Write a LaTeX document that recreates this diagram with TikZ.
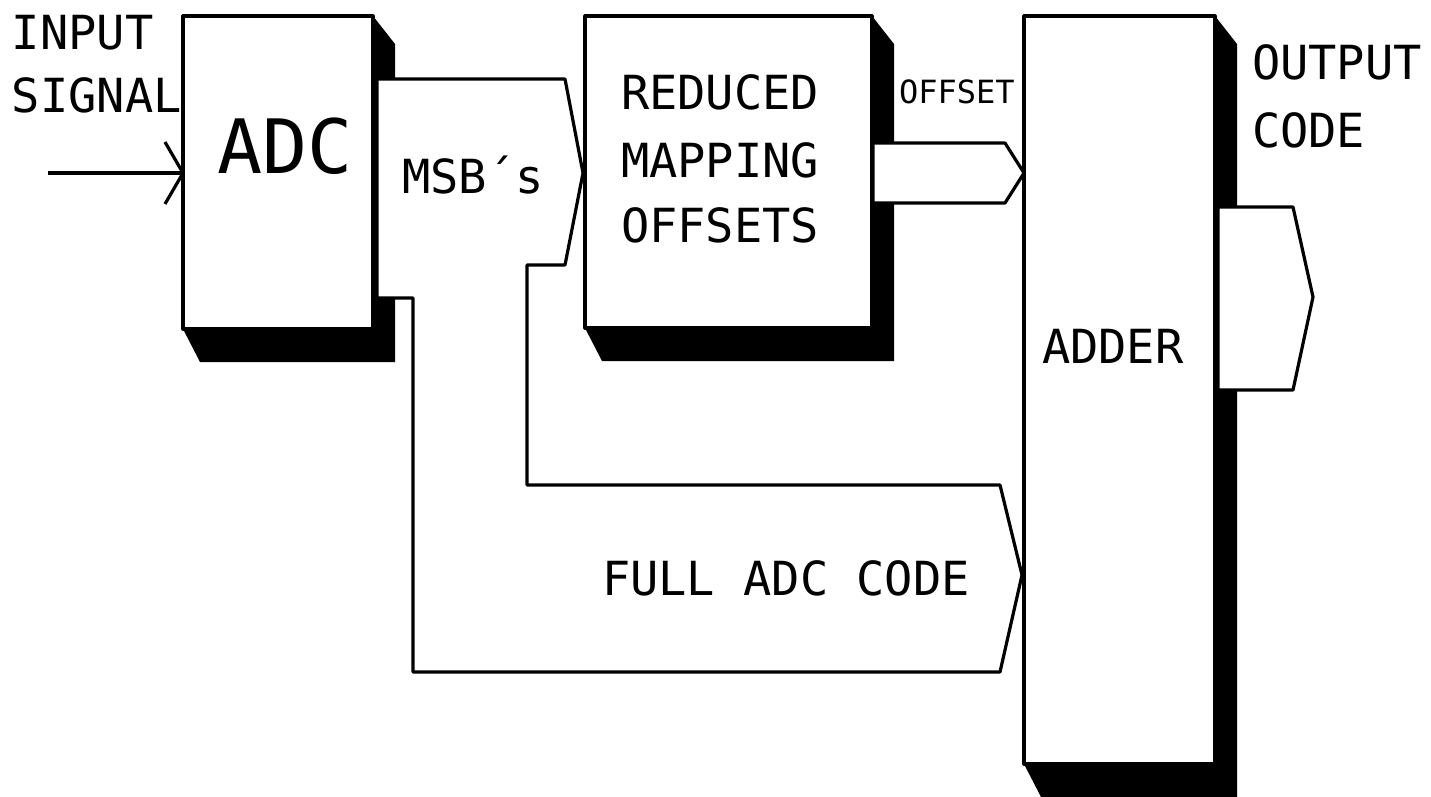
\documentclass[tikz,border=0pt]{standalone}
\usepackage{fontspec}
\newfontfamily\plotfont{DejaVu Sans Mono}
\usetikzlibrary{calc}
\newcommand\boxshadow[1]{%
  \fill[black] (#1.north east) -- ++(22,28) -- ($(#1.south east)+(22,33)$)
    -- ($(#1.south west)+(17,33)$) -- (#1.south west) -- (#1.south east) -- cycle;}
\begin{document}
\begin{tikzpicture}[x=1pt,y=-1pt, line width=3.2pt, line join=round,
  blk/.style={draw, fill=white, inner sep=0pt, outer sep=0pt},
  bus/.style={draw, fill=white},
  lbl/.style={anchor=base west, inner sep=0pt, outer sep=0pt,
    font=\plotfont\fontsize{47}{47}\selectfont},
  biglbl/.style={lbl, font=\plotfont\fontsize{75}{75}\selectfont},
  smalllbl/.style={lbl, font=\plotfont\fontsize{32}{32}\selectfont}]
\useasboundingbox (0,0) rectangle (1431,797);
% blocks
\node[blk, minimum width=190pt, minimum height=313pt] (adc) at (278,172.5) {};
\node[blk, minimum width=287pt, minimum height=312pt] (rmo) at (728.5,172) {};
\node[blk, minimum width=191pt, minimum height=748pt] (add) at (1119.5,390) {};
\boxshadow{adc}
\boxshadow{rmo}
\boxshadow{add}
% buses
\draw[bus] (377,79) -- (565,79) -- (583,173) -- (565,265) -- (527,265)
  -- (527,485) -- (1000,485) -- (1022,575) -- (1000,672) -- (413,672)
  -- (413,298) -- (377,298) -- cycle;
\draw[bus] (873,143) -- (1005,143) -- (1024,173) -- (1005,203) -- (873,203) -- cycle;
\draw[bus] (1218,207) -- (1293,207) -- (1313,297) -- (1293,390) -- (1218,390) -- cycle;
% input arrow
\coordinate (inp) at (48,173);
\coordinate (tip) at (adc.west |- inp);
\draw (inp) -- (tip);
\draw (tip) ++(-18,-31) -- (tip) -- ++(-18,31);
% labels
\node[lbl] (in1) at (12,50) {INPUT};
\node[lbl] (in2) at (12,113) {SIGNAL};
\node[biglbl] (adclbl) at (217,173) {ADC};
\node[lbl] (msb) at (402,193) {MSB´s};
\node[lbl] (r1) at (621,110) {REDUCED};
\node[lbl] (r2) at (621,177) {MAPPING};
\node[lbl] (r3) at (621,242) {OFFSETS};
\node[smalllbl] (off) at (899,103) {OFFSET};
\node[lbl] (addlbl) at (1042,363) {ADDER};
\node[lbl] (o1) at (1252,80) {OUTPUT};
\node[lbl] (o2) at (1252,147) {CODE};
\node[lbl] (full) at (602,595) {FULL ADC CODE};
\end{tikzpicture}
\end{document}
